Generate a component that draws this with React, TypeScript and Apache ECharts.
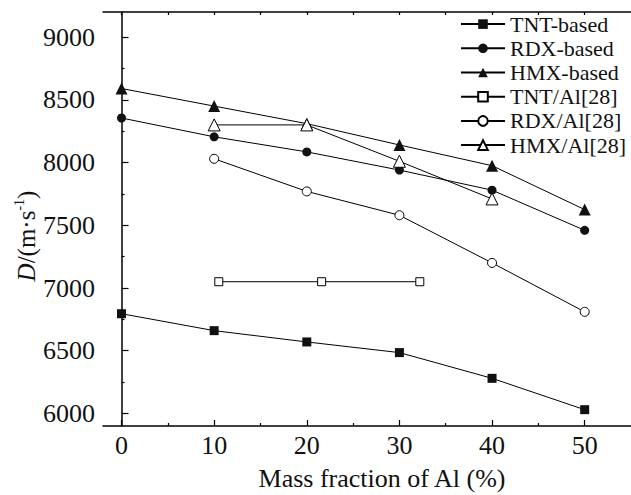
import React, { useEffect, useRef } from "react";
import * as echarts from "echarts";

const massFraction = [0, 10, 20, 30, 40, 50];
const tntBased = [6795, 6660, 6570, 6485, 6280, 6030];
const rdxBased = [8355, 8205, 8085, 7940, 7780, 7460];
const hmxBased = [8590, 8450, 8310, 8140, 7975, 7625];

const tntAlX = [10.5, 21.6, 32.2];
const tntAl = [7050, 7050, 7050];
const rdxAlX = [10, 20, 30, 40, 50];
const rdxAl = [8030, 7770, 7580, 7200, 6810];
const hmxAlX = [10, 20, 30, 40];
const hmxAl = [8300, 8300, 8010, 7710];

const xMajor = [0, 10, 20, 30, 40, 50];
const xMinor = [5, 15, 25, 35, 45];
const xTop = [0, 5, 10, 15, 20, 25, 30, 35, 40, 45, 50];
const yMajor = [6000, 6500, 7000, 7500, 8000, 8500, 9000];
const yMinor = [6250, 6750, 7250, 7750, 8250, 8750];

const FONT = "Liberation Serif";

const zip = (xs: number[], ys: number[]) => xs.map((x, i) => [x, ys[i]]);

export default function App() {
  const ref = useRef<HTMLDivElement>(null);
  useEffect(() => {
    if (!ref.current) return;
    const chart = echarts.init(ref.current, null, { renderer: "svg" });
    const gridRect = { left: 103, top: 12, width: 532, height: 414 };
    const xBase = { type: "value" as const, min: -2, max: 55, splitLine: { show: false } };
    const yBase = { type: "value" as const, min: 5900, max: 9200, splitLine: { show: false } };
    const axisLine = { show: true, lineStyle: { color: "#000", width: 1.5 } };
    const filled = (name: string, symbol: string, xs: number[], ys: number[], size = 9) => ({
      name,
      type: "line",
      xAxisIndex: 0,
      yAxisIndex: 0,
      data: zip(xs, ys),
      symbol,
      symbolSize: size,
      lineStyle: { color: "#000", width: 1 },
      itemStyle: { color: "#111" },
    });
    const hollow = (name: string, symbol: string, xs: number[], ys: number[], size = 9) => ({
      name,
      type: "line",
      xAxisIndex: 0,
      yAxisIndex: 0,
      data: zip(xs, ys),
      symbol,
      symbolSize: size,
      lineStyle: { color: "#000", width: 1 },
      itemStyle: { color: "#fff", borderColor: "#000", borderWidth: 1 },
    });
    const plain = (v: number) => String(v);
    const labelStyle = { fontFamily: FONT, fontSize: 26, color: "#111" };
    chart.setOption({
      animation: false,
      backgroundColor: "#fff",
      textStyle: { fontFamily: FONT },
      grid: [
        { ...gridRect, containLabel: false },
        { ...gridRect, containLabel: false },
        { ...gridRect, containLabel: false },
      ],
      xAxis: [
        {
          ...xBase,
          gridIndex: 0,
          position: "bottom",
          axisLine,
          axisTick: { show: true, inside: true, length: 6, customValues: xMajor, lineStyle: { color: "#000", width: 1.2 } },
          axisLabel: { customValues: xMajor, formatter: plain, ...labelStyle, margin: 6 },
        },
        {
          ...xBase,
          gridIndex: 1,
          position: "bottom",
          axisLine: { show: false },
          axisTick: { show: true, inside: true, length: 3, customValues: xMinor, lineStyle: { color: "#000", width: 1.2 } },
          axisLabel: { show: false },
        },
        {
          ...xBase,
          gridIndex: 2,
          position: "top",
          axisLine,
          axisTick: { show: true, inside: true, length: 3, customValues: xTop, lineStyle: { color: "#000", width: 1.2 } },
          axisLabel: { show: false },
        },
      ],
      yAxis: [
        {
          ...yBase,
          gridIndex: 0,
          position: "left",
          axisLine,
          axisTick: { show: true, inside: true, length: 7, customValues: yMajor, lineStyle: { color: "#000", width: 1.2 } },
          axisLabel: { customValues: yMajor, formatter: plain, ...labelStyle, margin: 8 },
        },
        {
          ...yBase,
          gridIndex: 1,
          position: "left",
          axisLine: { show: false },
          axisTick: { show: true, inside: true, length: 3, customValues: yMinor, lineStyle: { color: "#000", width: 1.2 } },
          axisLabel: { show: false },
        },
        {
          ...yBase,
          gridIndex: 2,
          position: "left",
          show: false,
        },
      ],
      legend: {
        orient: "vertical",
        left: 460,
        top: 12,
        padding: 0,
        itemWidth: 44,
        itemHeight: 12,
        itemGap: 0,
        textStyle: { fontFamily: FONT, fontSize: 22, color: "#111", lineHeight: 24.2 },
        data: ["TNT-based", "RDX-based", "HMX-based", "TNT/Al[28]", "RDX/Al[28]", "HMX/Al[28]"],
      },
      graphic: [
        {
          type: "text",
          x: 382,
          y: 478,
          style: {
            text: "Mass fraction of Al (%)",
            fontFamily: FONT,
            fontSize: 26,
            fill: "#111",
            align: "center",
            verticalAlign: "middle",
          },
        },
        {
          type: "text",
          x: 26,
          y: 236,
          rotation: Math.PI / 2,
          style: {
            text: "{i|D}{n|/(m·s}{s|-1}{n|)}",
            fontFamily: FONT,
            fontSize: 25,
            fill: "#111",
            align: "center",
            verticalAlign: "middle",
            rich: {
              i: { fontFamily: FONT, fontSize: 25, fontStyle: "italic", fill: "#111", lineHeight: 28 },
              n: { fontFamily: FONT, fontSize: 25, fill: "#111", lineHeight: 28 },
              s: { fontFamily: FONT, fontSize: 14, fill: "#111", lineHeight: 14, verticalAlign: "top" },
            },
          },
        },
      ],
      series: [
        filled("TNT-based", "rect", massFraction, tntBased, 9),
        filled("RDX-based", "circle", massFraction, rdxBased, 9),
        filled("HMX-based", "triangle", massFraction, hmxBased, 12),
        hollow("TNT/Al[28]", "rect", tntAlX, tntAl, 8),
        hollow("RDX/Al[28]", "circle", rdxAlX, rdxAl, 9),
        hollow("HMX/Al[28]", "triangle", hmxAlX, hmxAl, 12),
      ],
    });
    return () => chart.dispose();
  }, []);
  return <div ref={ref} style={{ width: 631, height: 495, position: "absolute", left: 0, top: 0 }} />;
}
